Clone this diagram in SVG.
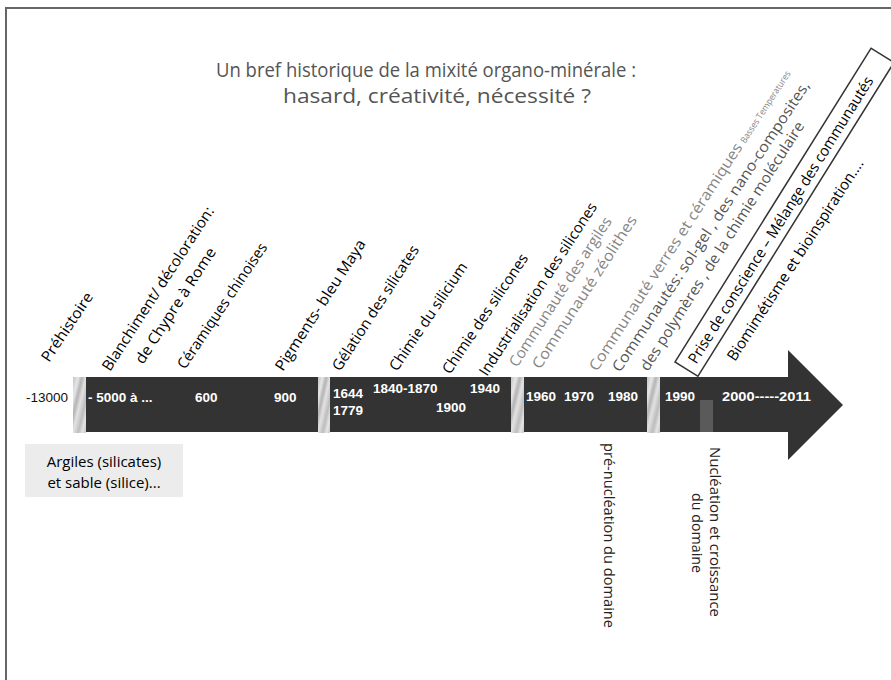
<svg xmlns="http://www.w3.org/2000/svg" width="891" height="680" viewBox="0 0 891 680">
<defs>
<linearGradient id="marble" x1="0" y1="0" x2="1" y2="1">
<stop offset="0" stop-color="#c4c4c4"/>
<stop offset="0.2" stop-color="#e6e6e6"/>
<stop offset="0.35" stop-color="#b4b4b4"/>
<stop offset="0.5" stop-color="#e2e2e2"/>
<stop offset="0.7" stop-color="#bdbdbd"/>
<stop offset="0.85" stop-color="#e4e4e4"/>
<stop offset="1" stop-color="#c6c6c6"/>
</linearGradient>
<style>
.lbl{font-family:"Open Sans","Liberation Sans",sans-serif;font-size:15px;fill:#000}
.gry{fill:#858585}
.mid{fill:#555}
.num{font-family:"Liberation Sans",Arial,sans-serif;font-weight:bold;font-size:13.5px;fill:#fff}
.blk{font-family:"Liberation Sans",Arial,sans-serif;font-size:13.5px;fill:#111}
.title{font-family:"Open Sans","Liberation Sans",sans-serif;font-size:20px;fill:#555}
.bar{fill:#333}
.tex{fill:url(#marble)}
.vt{font-family:"Open Sans","Liberation Sans",sans-serif;font-size:15px;fill:#222}
</style>
</defs>
<rect width="891" height="680" fill="#fff"/>
<path d="M6,680 V8 H891" fill="none" stroke="#666" stroke-width="2"/>

<g id="title">
<text class="title" x="216" y="77" textLength="420" lengthAdjust="spacingAndGlyphs">Un bref historique de la mixité organo-minérale :</text>
<text class="title" x="283" y="103" textLength="308" lengthAdjust="spacingAndGlyphs">hasard, créativité, nécessité ?</text>
</g>

<g id="connectors">
<g id="timeline-arrow">
<rect class="tex" x="73" y="377" width="13" height="56"/>
<rect class="bar" x="86" y="377" width="232" height="55"/>
<rect class="tex" x="318" y="377" width="12" height="56"/>
<rect class="bar" x="330" y="377" width="181" height="55"/>
<rect class="tex" x="511" y="377" width="13" height="56"/>
<rect class="bar" x="524" y="377" width="123" height="55"/>
<rect class="tex" x="647" y="377" width="13" height="56"/>
<path class="bar" d="M660,377 H788 V350 L843,405 L788,460 V432 H660 Z"/>
<rect x="700" y="400" width="13" height="32" fill="#5a5a5a"/>
</g>
</g>

<g id="dates">
<text class="blk" x="26" y="402">-13000</text>
<text class="num" x="88" y="402">- 5000 à ...</text>
<text class="num" x="195" y="402">600</text>
<text class="num" x="274" y="402">900</text>
<text class="num" x="333" y="398">1644</text>
<text class="num" x="333" y="415">1779</text>
<text class="num" x="373" y="393">1840-1870</text>
<text class="num" x="436" y="412">1900</text>
<text class="num" x="470" y="393">1940</text>
<text class="num" x="526" y="401">1960</text>
<text class="num" x="564" y="401">1970</text>
<text class="num" x="608" y="401">1980</text>
<text class="num" x="665" y="401">1990</text>
<text class="num" x="722" y="401" textLength="89" lengthAdjust="spacingAndGlyphs">2000-----2011</text>
</g>

<g id="label-prehistoire">
<text class="lbl" transform="translate(49,363) rotate(-56)" textLength="80" lengthAdjust="spacingAndGlyphs">Préhistoire</text>
</g>
<g id="label-blanchiment">
<text class="lbl" transform="translate(110,372) rotate(-57)" textLength="192" lengthAdjust="spacingAndGlyphs">Blanchiment/ décoloration:</text>
<text class="lbl" transform="translate(143,365) rotate(-57)" textLength="135" lengthAdjust="spacingAndGlyphs">de Chypre à Rome</text>
</g>
<g id="label-ceramiques">
<text class="lbl" transform="translate(185,370) rotate(-56)" textLength="148" lengthAdjust="spacingAndGlyphs">Céramiques chinoises</text>
</g>
<g id="label-pigments">
<text class="lbl" transform="translate(283,372) rotate(-57)" textLength="153" lengthAdjust="spacingAndGlyphs">Pigments- bleu Maya</text>
</g>
<g id="label-gelation">
<text class="lbl" transform="translate(340,372) rotate(-57)" textLength="146" lengthAdjust="spacingAndGlyphs">Gélation des silicates</text>
</g>
<g id="label-chimie-silicium">
<text class="lbl" transform="translate(397,372) rotate(-56)" textLength="127" lengthAdjust="spacingAndGlyphs">Chimie du silicium</text>
</g>
<g id="label-chimie-silicones">
<text class="lbl" transform="translate(450,375) rotate(-56)" textLength="141" lengthAdjust="spacingAndGlyphs">Chimie des silicones</text>
</g>
<g id="label-industrialisation">
<text class="lbl" transform="translate(487,377) rotate(-57)" textLength="203" lengthAdjust="spacingAndGlyphs">Industrialisation des silicones</text>
</g>
<g id="label-communautes-argiles">
<text class="lbl gry" transform="translate(517,368) rotate(-57)" textLength="175" lengthAdjust="spacingAndGlyphs">Communauté des  argiles</text>
<text class="lbl gry" transform="translate(540,370) rotate(-57)" textLength="179" lengthAdjust="spacingAndGlyphs">Communauté zéolithes</text>
</g>
<g id="label-communautes-solgel">
<text class="lbl gry" transform="translate(597,372) rotate(-57)"><tspan textLength="268" lengthAdjust="spacingAndGlyphs">Communauté verres et céramiques</tspan><tspan font-size="9" dx="4" textLength="84" lengthAdjust="spacingAndGlyphs">Basses  Temperatures</tspan></text>
<text class="lbl mid" transform="translate(620,373) rotate(-56.5)" textLength="345" lengthAdjust="spacingAndGlyphs">Communautés: sol-gel , des  nano-composites,</text>
<text class="lbl mid" transform="translate(648,372) rotate(-57.5)" textLength="292" lengthAdjust="spacingAndGlyphs">des polymères , de la chimie moléculaire</text>
</g>
<g id="label-prise-conscience" transform="translate(675,362) rotate(-58)">
<rect x="0" y="0" width="370" height="27" fill="#fff" stroke="#333" stroke-width="1.5"/>
<text class="lbl" x="9" y="19.5" textLength="335" lengthAdjust="spacingAndGlyphs">Prise de conscience – Mélange des communautés</text>
</g>
<g id="label-biomimetisme">
<text class="lbl" transform="translate(735,362) rotate(-57)" textLength="237" lengthAdjust="spacingAndGlyphs">Biomimétisme et bioinspiration….</text>
</g>

<g id="box-argiles">
<rect x="25" y="444" width="158" height="53" fill="#ececec"/>
<text class="lbl" x="104" y="467" text-anchor="middle" font-size="16" fill="#222">Argiles (silicates)</text>
<text class="lbl" x="104" y="488" text-anchor="middle" font-size="16" fill="#222">et sable (silice)...</text>
</g>

<g id="note-prenucleation">
<text class="vt" transform="translate(604,443) rotate(90)" textLength="185" lengthAdjust="spacingAndGlyphs">pré-nucléation du domaine</text>
</g>
<g id="note-nucleation">
<text class="vt" transform="translate(710,532) rotate(90)" text-anchor="middle" textLength="170" lengthAdjust="spacingAndGlyphs">Nucléation et croissance</text>
<text class="vt" transform="translate(692,533) rotate(90)" text-anchor="middle" textLength="80" lengthAdjust="spacingAndGlyphs">du domaine</text>
</g>
</svg>
